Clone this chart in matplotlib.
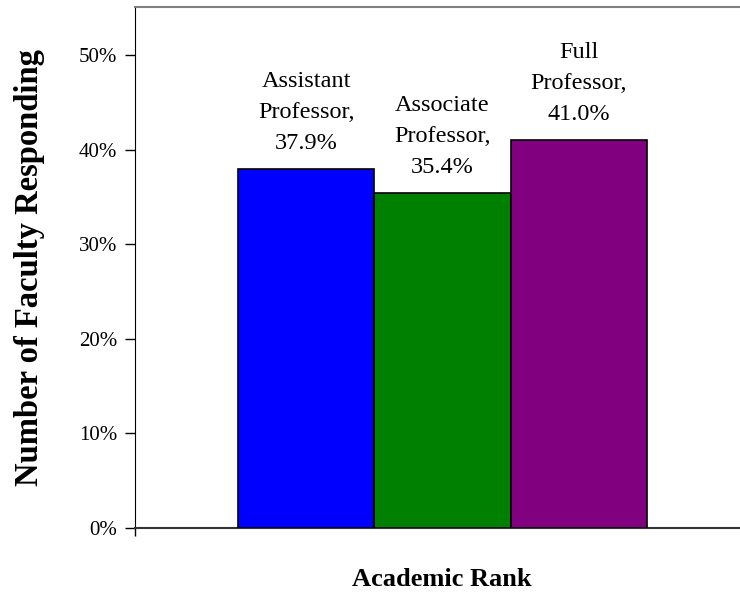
import matplotlib
matplotlib.use("Agg")
import matplotlib.pyplot as plt
from matplotlib.ticker import PercentFormatter

categories = ["Assistant\nProfessor,", "Associate\nProfessor,", "Full\nProfessor,"]
values = [37.9, 35.4, 41.0]
colors = ["#0000FF", "#008000", "#800080"]
yticks = [0, 10, 20, 30, 40, 50]

plt.rcParams['font.family'] = ['Liberation Serif', 'DejaVu Serif']

fig = plt.figure(figsize=(7.4, 6.08), dpi=100)
ax = fig.add_axes([135/740, 80/608, 615/740, 521/608])

x = list(range(len(values)))
ax.bar(x, values, width=1.0, color=colors, edgecolor="black", linewidth=1.2, zorder=3)
for xi, cat, v in zip(x, categories, values):
    ax.text(xi, v + 1.6, f"{cat}\n{v:.1f}%", ha="center", va="bottom",
            fontsize=17.5, linespacing=1.62)

ax.set_xlim(-1.255, 3.255)
ax.set_ylim(0, 55.07)
ax.set_yticks(yticks)
ax.yaxis.set_major_formatter(PercentFormatter(decimals=0))
ax.tick_params(axis='y', labelsize=15, direction='out', length=7, width=1, pad=6)
ax.set_xticks([-1.255])
ax.set_xticklabels([""])
ax.tick_params(axis='x', direction='out', length=6, width=1)

ax.spines['top'].set_color('#808080')
ax.spines['top'].set_linewidth(1.5)
ax.spines['right'].set_visible(False)
ax.spines['left'].set_color('black')
ax.spines['bottom'].set_color('#333333')
ax.spines['bottom'].set_linewidth(1.5)

fig.text(442/740, 1 - 580/608, "Academic Rank", ha="center", va="center",
         fontsize=19, fontweight="bold")
fig.text(30/740, 1 - 267/608, "Number of Faculty Responding", ha="center", va="center",
         rotation=90, fontsize=23.5, fontweight="bold")

fig.savefig("out.png", dpi=100)
